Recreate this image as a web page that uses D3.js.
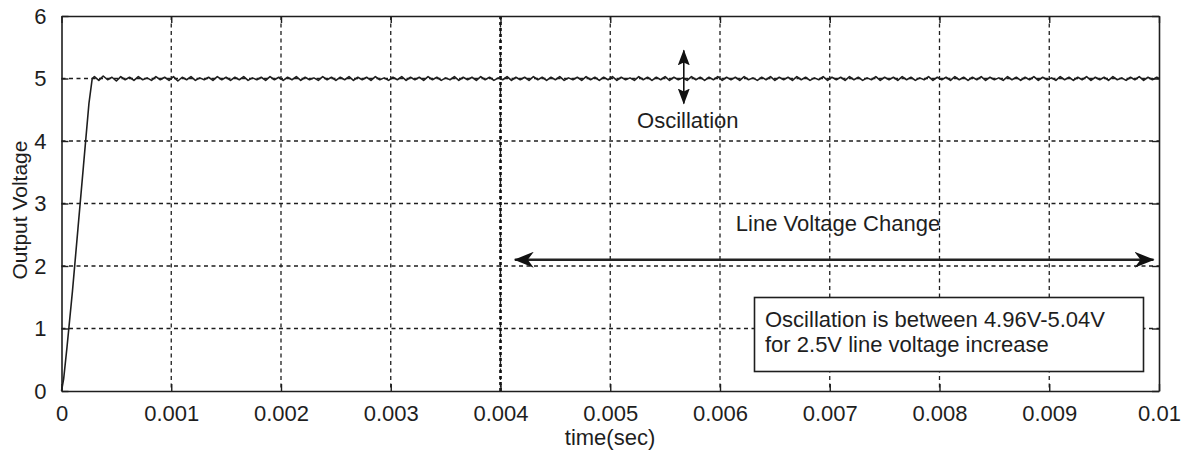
<!DOCTYPE html>
<html>
<head>
<meta charset="utf-8">
<script src="https://cdn.jsdelivr.net/npm/d3@7"></script>
<style>
  html, body { margin: 0; padding: 0; background: #fff; }
  svg { display: block; font-family: "Liberation Sans", Arial, sans-serif; }
</style>
</head>
<body>
<svg id="chart" width="1190" height="452"></svg>
<script>
// ---- data ----
const xTicks = [0, 0.001, 0.002, 0.003, 0.004, 0.005, 0.006, 0.007, 0.008, 0.009, 0.01];
const xTickLabels = ["0", "0.001", "0.002", "0.003", "0.004", "0.005", "0.006", "0.007", "0.008", "0.009", "0.01"];
const yTicks = [0, 1, 2, 3, 4, 5, 6];
const yTickLabels = ["0", "1", "2", "3", "4", "5", "6"];

// start-up ramp (time s, voltage V)
const rampTime = [0, 0.00002, 0.00005, 0.0001, 0.00015, 0.0002, 0.00025, 0.00028];
const rampVolt = [0, 0.2, 0.7, 1.6, 2.6, 3.6, 4.6, 5.0];

// steady state ripple, sampled every 0.00004 s from 0.0003 s
const rippleStart = 0.0003;
const rippleStep = 0.00004;
const rippleVolt = [
  5.03,4.97,5.04,4.98,5.02,4.96,5.03,4.98,5.02,4.97,5.03,4.98,5.01,4.97,5.03,4.98,5.02,4.97,5.03,4.96,
  5.02,4.98,5.03,4.97,5.01,4.98,5.02,4.97,5.03,4.98,5.02,4.97,5.02,4.98,5.03,4.97,5.01,4.98,5.02,4.97,
  5.03,4.98,5.02,4.97,5.02,4.98,5.03,4.97,5.02,4.98,5.01,4.97,5.03,4.98,5.02,4.97,5.02,4.98,5.03,4.97,
  5.02,4.98,5.02,4.97,5.03,4.98,5.01,4.97,5.02,4.98,5.03,4.97,5.02,4.98,5.02,4.97,5.03,4.98,5.02,4.97,
  5.01,4.98,5.03,4.97,5.02,4.98,5.02,4.97,5.03,4.98,5.02,4.97,5.01,4.98,5.03,4.97,5.02,4.98,5.02,4.97,
  5.03,4.98,5.02,4.97,5.02,4.98,5.03,4.97,5.01,4.98,5.02,4.97,5.03,4.98,5.02,4.97,5.02,4.98,5.03,4.97,
  5.02,4.98,5.01,4.97,5.03,4.98,5.02,4.97,5.02,4.98,5.03,4.97,5.02,4.98,5.01,4.97,5.03,4.98,5.02,4.97,
  5.02,4.98,5.03,4.97,5.02,4.98,5.02,4.97,5.03,4.98,5.01,4.97,5.02,4.98,5.03,4.97,5.02,4.98,5.02,4.97,
  5.03,4.98,5.02,4.97,5.01,4.98,5.03,4.97,5.02,4.98,5.02,4.97,5.03,4.98,5.02,4.97,5.01,4.98,5.03,4.97,
  5.02,4.98,5.02,4.97,5.03,4.98,5.02,4.97,5.01,4.98,5.03,4.97,5.02,4.98,5.02,4.97,5.03,4.98,5.02,4.97,
  5.02,4.98,5.03,4.97,5.02,4.98,5.01,4.97,5.03,4.98,5.02,4.97,5.02,4.98,5.03,4.97,5.02,4.98,5.01,4.97,
  5.03,4.98,5.02,4.97,5.02,4.98,5.03,4.97,5.02,4.98,5.02,4.97,5.03,4.98,5.01,4.97,5.02,4.98,5.03,4.97,
  5.02,4.98,5.02,5.00
];

const lineChangeTime = 0.004;
const oscAnnot = { t: 0.00567, vTop: 5.45, vBottom: 4.6, label: "Oscillation" };
const lineAnnot = { t0: 0.00413, t1: 0.00995, v: 2.1, label: "Line Voltage Change" };
const boxLines = ["Oscillation is between 4.96V-5.04V", "for 2.5V line voltage increase"];

// ---- layout ----
const svg = d3.select("#chart");
const ink = "#1e1e1e";
const x = d3.scaleLinear().domain([0, 0.01]).range([61.5, 1159]);
const y = d3.scaleLinear().domain([0, 6]).range([391, 16]);

const data = rampTime.map((t, i) => [t, rampVolt[i]])
  .concat(rippleVolt.map((v, i) => [Math.min(rippleStart + i * rippleStep, 0.01), v]));

// grid
const grid = svg.append("g");
grid.selectAll(".gx").data(xTicks.slice(1, -1)).enter().append("line")
  .attr("x1", d => x(d)).attr("x2", d => x(d))
  .attr("y1", y(6)).attr("y2", y(0))
  .attr("stroke", ink).attr("stroke-width", 1.3).attr("stroke-dasharray", "4,3.5");
grid.selectAll(".gy").data(yTicks.slice(1, -1)).enter().append("line")
  .attr("x1", x(0)).attr("x2", x(0.01))
  .attr("y1", d => y(d)).attr("y2", d => y(d))
  .attr("stroke", ink).attr("stroke-width", 1.3).attr("stroke-dasharray", "4,3.5");

// heavy dotted line at line-voltage change
svg.append("line")
  .attr("x1", x(lineChangeTime)).attr("x2", x(lineChangeTime))
  .attr("y1", y(6)).attr("y2", y(0))
  .attr("stroke", "#111").attr("stroke-width", 2.6).attr("stroke-dasharray", "3,3");

// axes
const fontSize = 22;
const xAxisB = d3.axisBottom(x).tickValues(xTicks).tickFormat((d, i) => xTickLabels[i]).tickSizeInner(-7).tickSizeOuter(0).tickPadding(14);
const xAxisT = d3.axisTop(x).tickValues(xTicks).tickFormat("").tickSizeInner(-7).tickSizeOuter(0);
const yAxisL = d3.axisLeft(y).tickValues(yTicks).tickFormat((d, i) => yTickLabels[i]).tickSizeInner(-7).tickSizeOuter(0).tickPadding(15);
const yAxisR = d3.axisRight(y).tickValues(yTicks).tickFormat("").tickSizeInner(-7).tickSizeOuter(0);

function style(g) {
  g.select(".domain").attr("stroke", ink).attr("stroke-width", 1.6);
  g.selectAll(".tick line").attr("stroke", ink).attr("stroke-width", 1.4);
  g.selectAll(".tick text").attr("fill", ink).style("font-size", fontSize + "px")
    .style("font-family", "'Liberation Sans', Arial, sans-serif");
}
svg.append("g").attr("transform", `translate(0,${y(0)})`).call(xAxisB).call(style);
svg.append("g").attr("transform", `translate(0,${y(6)})`).call(xAxisT).call(style);
svg.append("g").attr("transform", `translate(${x(0)},0)`).call(yAxisL).call(style);
svg.append("g").attr("transform", `translate(${x(0.01)},0)`).call(yAxisR).call(style);

// signal
svg.append("path").datum(data)
  .attr("d", d3.line().x(d => x(d[0])).y(d => y(d[1])))
  .attr("fill", "none").attr("stroke", ink).attr("stroke-width", 1.6).attr("stroke-linejoin", "round");

// arrowheads
const defs = svg.append("defs");
defs.append("marker").attr("id", "arr").attr("viewBox", "0 0 16 12")
  .attr("refX", 15).attr("refY", 6).attr("markerWidth", 16).attr("markerHeight", 12)
  .attr("markerUnits", "userSpaceOnUse").attr("orient", "auto-start-reverse")
  .append("path").attr("d", "M0,0 L16,6 L0,12 L3,6 Z").attr("fill", "#111");
defs.append("marker").attr("id", "arr2").attr("viewBox", "0 0 20 16")
  .attr("refX", 19).attr("refY", 8).attr("markerWidth", 20).attr("markerHeight", 16)
  .attr("markerUnits", "userSpaceOnUse").attr("orient", "auto-start-reverse")
  .append("path").attr("d", "M0,0 L20,8 L0,16 L6,8 Z").attr("fill", "#111");

// oscillation arrow
svg.append("line")
  .attr("x1", x(oscAnnot.t)).attr("x2", x(oscAnnot.t))
  .attr("y1", y(oscAnnot.vTop)).attr("y2", y(oscAnnot.vBottom))
  .attr("stroke", "#111").attr("stroke-width", 1.6)
  .attr("marker-start", "url(#arr)").attr("marker-end", "url(#arr)");
svg.append("text").attr("x", x(oscAnnot.t) + 4).attr("y", 128)
  .attr("text-anchor", "middle").attr("fill", ink).style("font-size", fontSize + "px")
  .text(oscAnnot.label);

// line voltage change arrow
svg.append("line")
  .attr("x1", x(lineAnnot.t0)).attr("x2", x(lineAnnot.t1))
  .attr("y1", y(lineAnnot.v)).attr("y2", y(lineAnnot.v))
  .attr("stroke", "#222").attr("stroke-width", 2.4)
  .attr("marker-start", "url(#arr2)").attr("marker-end", "url(#arr2)");
svg.append("text").attr("x", 838).attr("y", 231)
  .attr("text-anchor", "middle").attr("fill", ink).style("font-size", fontSize + "px")
  .text(lineAnnot.label);

// info box
svg.append("rect").attr("x", 754.5).attr("y", 297.5).attr("width", 389).attr("height", 74)
  .attr("fill", "#fff").attr("stroke", ink).attr("stroke-width", 1.6);
svg.selectAll(".boxline").data(boxLines).enter().append("text")
  .attr("x", 765).attr("y", (d, i) => 327 + i * 25)
  .attr("fill", ink).style("font-size", fontSize + "px")
  .text(d => d);

// axis titles
svg.append("text").attr("x", 610).attr("y", 445).attr("text-anchor", "middle")
  .attr("fill", ink).style("font-size", "22px").text("time(sec)");
svg.append("text").attr("transform", "translate(27,210) rotate(-90)").attr("text-anchor", "middle")
  .attr("fill", ink).style("font-size", "21px").text("Output Voltage");
</script>
</body>
</html>
